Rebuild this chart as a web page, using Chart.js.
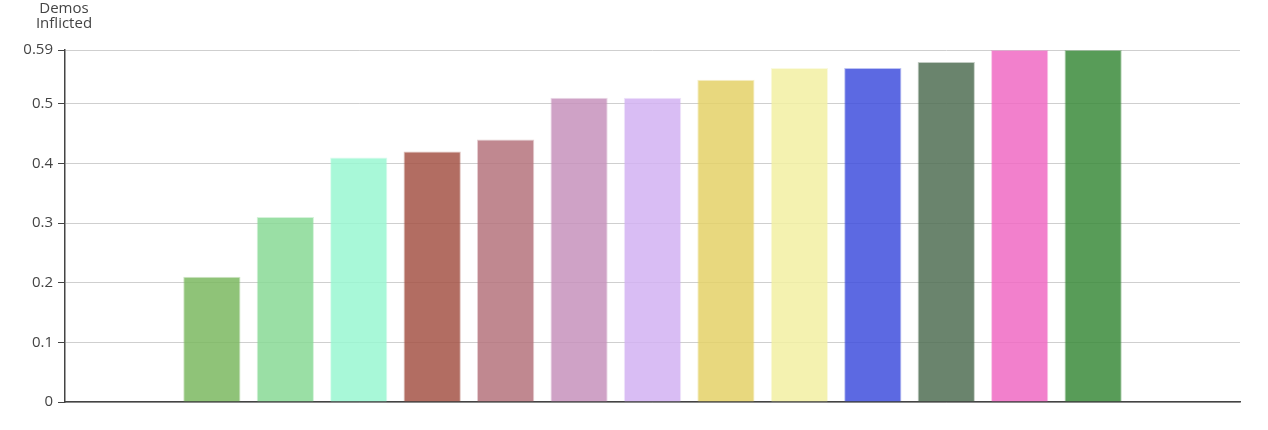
<!DOCTYPE html>
<html>
<head>
<meta charset="utf-8">
<script src="https://cdn.jsdelivr.net/npm/chart.js@4"></script>
<style>
html,body{margin:0;padding:0;background:#fff;}
#wrap{width:1268px;height:430px;position:relative;}
</style>
</head>
<body>
<div id="wrap"><canvas id="c" width="1268" height="430"></canvas></div>
<script>
const categories = ["", "", "c1", "c2", "c3", "c4", "c5", "c6", "c7", "c8", "c9", "c10", "c11", "c12", "c13", "", ""];
const values = [null, null, 0.21, 0.31, 0.41, 0.42, 0.44, 0.51, 0.51, 0.54, 0.56, 0.56, 0.57, 0.59, 0.59, null, null];
const barColors = [
  "", "",
  "rgb(123,184,96)", "rgb(136,217,149)", "rgb(153,247,209)", "rgb(164,84,70)",
  "rgb(181,115,124)", "rgb(199,146,188)", "rgb(210,177,242)", "rgb(228,209,103)",
  "rgb(242,240,162)", "rgb(63,79,221)", "rgb(80,110,84)", "rgb(240,106,195)",
  "rgb(59,139,59)",
  "", ""
];
const yTicks = [0, 0.1, 0.2, 0.3, 0.4, 0.5, 0.59];
const yTitle = ["Demos", "Inflicted"];

function withAlpha(c, a){ return c ? c.replace("rgb(", "rgba(").replace(")", "," + a + ")") : "rgba(0,0,0,0)"; }

const FONT = "'Open Sans', 'Noto Sans', sans-serif";

const titlePlugin = {
  id: 'yTitle',
  afterDraw(chart){
    const ctx = chart.ctx;
    ctx.save();
    ctx.font = "15px " + FONT;
    ctx.fillStyle = "#444";
    ctx.textAlign = "center";
    ctx.textBaseline = "middle";
    const x = 64;
    yTitle.forEach((t, i) => ctx.fillText(t, x, 9 + i * 15));
    ctx.restore();
  }
};

new Chart(document.getElementById('c'), {
  type: 'bar',
  data: {
    labels: categories,
    datasets: [{
      data: values,
      backgroundColor: barColors.map(c => withAlpha(c, 0.85)),
      borderColor: barColors.map(c => withAlpha(c, 0.35)),
      borderWidth: 1,
      categoryPercentage: 1,
      barPercentage: 0.78
    }]
  },
  options: {
    responsive: false,
    animation: false,
    layout: { padding: { left: 0, right: 28, top: 50, bottom: 20 } },
    plugins: { legend: { display: false }, tooltip: { enabled: false } },
    scales: {
      x: {
        offset: false,
        grid: { display: false },
        border: { display: true, color: "#444", width: 1.5 },
        ticks: { display: false }
      },
      y: {
        min: 0,
        max: 0.59,
        afterBuildTicks(scale){ scale.ticks = yTicks.map(v => ({ value: v })); },
        afterFit(scale){ scale.width = 65; },
        grid: { color: "#cfcfcf", lineWidth: 1, tickLength: 7, tickColor: "#444" },
        border: { display: true, color: "#444", width: 1.5 },
        ticks: {
          color: "#444",
          padding: 5,
          font: { family: FONT, size: 15 },
          callback: v => String(v)
        }
      }
    }
  },
  plugins: [titlePlugin]
});
</script>
</body>
</html>
